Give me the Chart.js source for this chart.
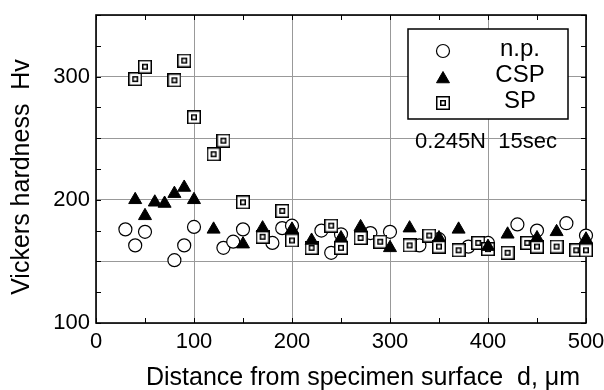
<!DOCTYPE html>
<html>
<head>
<meta charset="utf-8">
<script src="https://cdn.jsdelivr.net/npm/chart.js@4/dist/chart.umd.min.js"></script>
<style>
  html, body { margin: 0; padding: 0; background: #fff; }
</style>
</head>
<body>
<canvas id="hvChart" width="604" height="390"></canvas>
<script>
// n.p. (not peened)
const npDist = [30, 40, 50, 80, 90, 100, 130, 140, 150, 180, 190, 200, 230, 240, 250, 280, 300, 330, 350, 380, 400, 430, 450, 480, 500];
const npHv   = [176, 163, 174, 151, 163, 178, 161, 166, 176, 165, 177, 179, 175, 157, 172, 173, 174, 163, 168, 162, 165, 180, 175, 181, 171];

// CSP
const cspDist = [40, 50, 60, 70, 80, 90, 100, 120, 150, 170, 200, 220, 250, 270, 300, 320, 350, 370, 400, 420, 450, 470, 500];
const cspHv   = [200, 187, 198, 197, 205, 210, 200, 176, 164, 177, 176, 167, 169, 178, 161, 177, 169, 176, 162, 172, 169, 174, 168];

// SP
const spDist = [40, 50, 80, 90, 100, 120, 130, 150, 170, 190, 200, 220, 240, 250, 270, 290, 320, 340, 350, 370, 390, 400, 420, 440, 450, 470, 490, 500];
const spHv   = [298, 308, 297, 313, 267, 237, 248, 198, 170, 191, 167, 161, 179, 161, 169, 166, 163, 171, 162, 159, 165, 160, 157, 165, 162, 162, 159, 159];

const seriesLabels = ['n.p.', 'CSP', 'SP'];
const noteText = '0.245N  15sec';
const xTitle = 'Distance from specimen surface  d, \u03bcm';
const yTitle = 'Vickers hardness  Hv';

const FONT = "'Liberation Sans', Arial, sans-serif";

function pairs(xs, ys) {
  return xs.map((x, i) => ({ x: x, y: ys[i] }));
}

// double square marker used for SP
function makeSquareMarker() {
  const c = document.createElement('canvas');
  c.width = 14;
  c.height = 14;
  const g = c.getContext('2d');
  g.fillStyle = '#fff';
  g.fillRect(0, 0, 14, 14);
  g.strokeStyle = '#000';
  g.lineWidth = 1.5;
  g.strokeRect(0.75, 0.75, 12.5, 12.5);
  g.strokeRect(4.75, 4.75, 4.5, 4.5);
  return c;
}
const spMarker = makeSquareMarker();

// frame round the plot + small inward ticks
const framePlugin = {
  id: 'frame',
  beforeDatasetsDraw(chart) {
    const { ctx, chartArea: a, scales } = chart;
    ctx.save();
    ctx.strokeStyle = '#000';
    ctx.lineWidth = 1;
    for (let v = 100; v <= 350; v += 25) {
      const y = Math.round(scales.y.getPixelForValue(v)) + 0.5;
      ctx.beginPath();
      ctx.moveTo(a.left, y); ctx.lineTo(a.left + 5, y);
      ctx.moveTo(a.right, y); ctx.lineTo(a.right - 5, y);
      ctx.stroke();
    }
    for (let v = 0; v <= 500; v += 50) {
      const x = Math.round(scales.x.getPixelForValue(v)) + 0.5;
      ctx.beginPath();
      ctx.moveTo(x, a.bottom); ctx.lineTo(x, a.bottom - 5);
      ctx.moveTo(x, a.top); ctx.lineTo(x, a.top + 5);
      ctx.stroke();
    }
    ctx.lineWidth = 1.6;
    ctx.strokeRect(a.left, a.top, a.right - a.left, a.bottom - a.top);
    ctx.restore();
  }
};

// axis titles
const titlePlugin = {
  id: 'axisTitles',
  afterDraw(chart) {
    const { ctx, chartArea: a } = chart;
    ctx.save();
    ctx.fillStyle = '#000';
    ctx.font = '25px ' + FONT;
    ctx.textAlign = 'center';
    ctx.textBaseline = 'middle';
    ctx.fillText(xTitle, (a.left + a.right) / 2 + 22, a.bottom + 55);
    ctx.translate(22, (a.top + a.bottom) / 2 + 8);
    ctx.rotate(-Math.PI / 2);
    ctx.fillText(yTitle, 0, 0);
    ctx.restore();
  }
};

// boxed legend and test condition note
const legendPlugin = {
  id: 'boxLegend',
  afterDraw(chart) {
    const { ctx, chartArea: a } = chart;
    const right = a.right - 18, top = a.top + 14;
    const w = 160, h = 90;
    const left = right - w;
    ctx.save();
    ctx.fillStyle = '#fff';
    ctx.fillRect(left, top, w, h);
    ctx.strokeStyle = '#000';
    ctx.lineWidth = 1.5;
    ctx.strokeRect(left, top, w, h);

    ctx.font = '24px ' + FONT;
    ctx.textAlign = 'center';
    ctx.textBaseline = 'middle';
    chart.data.datasets.forEach((ds, i) => {
      const y = top + 22 + i * 26;
      ctx.fillStyle = ds.backgroundColor;
      ctx.strokeStyle = '#000';
      ctx.lineWidth = ds.borderWidth;
      Chart.helpers.drawPoint(ctx, {
        pointStyle: ds.pointStyle, radius: ds.pointRadius, borderWidth: ds.borderWidth, rotation: 0
      }, left + 35, y + (i === 1 ? 2 : 0));
      ctx.fillStyle = '#000';
      ctx.fillText(ds.label, left + 112, y - 2);
    });

    ctx.font = '22px ' + FONT;
    ctx.fillStyle = '#000';
    ctx.fillText(noteText, left + 78, top + 113);
    ctx.restore();
  }
};

new Chart(document.getElementById('hvChart'), {
  type: 'scatter',
  data: {
    datasets: [
      {
        label: seriesLabels[0], data: pairs(npDist, npHv), order: 3,
        pointStyle: 'circle', pointRadius: 6.5, pointHoverRadius: 6.5,
        backgroundColor: '#fff', borderColor: '#000', borderWidth: 1.2, clip: false
      },
      {
        label: seriesLabels[1], data: pairs(cspDist, cspHv), order: 1,
        pointStyle: 'triangle', pointRadius: 7.5, pointHoverRadius: 7.5,
        backgroundColor: '#000', borderColor: '#000', borderWidth: 1, clip: false
      },
      {
        label: seriesLabels[2], data: pairs(spDist, spHv), order: 2,
        pointStyle: spMarker, pointRadius: 7, pointHoverRadius: 7,
        backgroundColor: '#fff', borderColor: '#000', borderWidth: 1, clip: false
      }
    ]
  },
  options: {
    responsive: false,
    animation: false,
    devicePixelRatio: 1,
    layout: { padding: { top: 15, right: 18, left: 0, bottom: 0 } },
    plugins: {
      legend: { display: false },
      tooltip: { enabled: false }
    },
    scales: {
      x: {
        type: 'linear', min: 0, max: 500,
        afterFit: (s) => { s.height = 67; s.paddingLeft = 0; s.paddingRight = 0; },
        ticks: { stepSize: 100, color: '#000', font: { family: FONT, size: 22 }, padding: 6, maxRotation: 0 },
        grid: { color: '#999', lineWidth: 1, drawTicks: false },
        border: { display: false }
      },
      y: {
        type: 'linear', min: 100, max: 350,
        afterFit: (s) => { s.width = 96; s.paddingTop = 0; s.paddingBottom = 0; },
        ticks: {
          stepSize: 50, color: '#000', font: { family: FONT, size: 22 }, padding: 6,
          callback: (v) => (v % 100 === 0 ? v : '')
        },
        grid: { color: '#999', lineWidth: 1, drawTicks: false },
        border: { display: false }
      }
    }
  },
  plugins: [framePlugin, titlePlugin, legendPlugin]
});
</script>
</body>
</html>
